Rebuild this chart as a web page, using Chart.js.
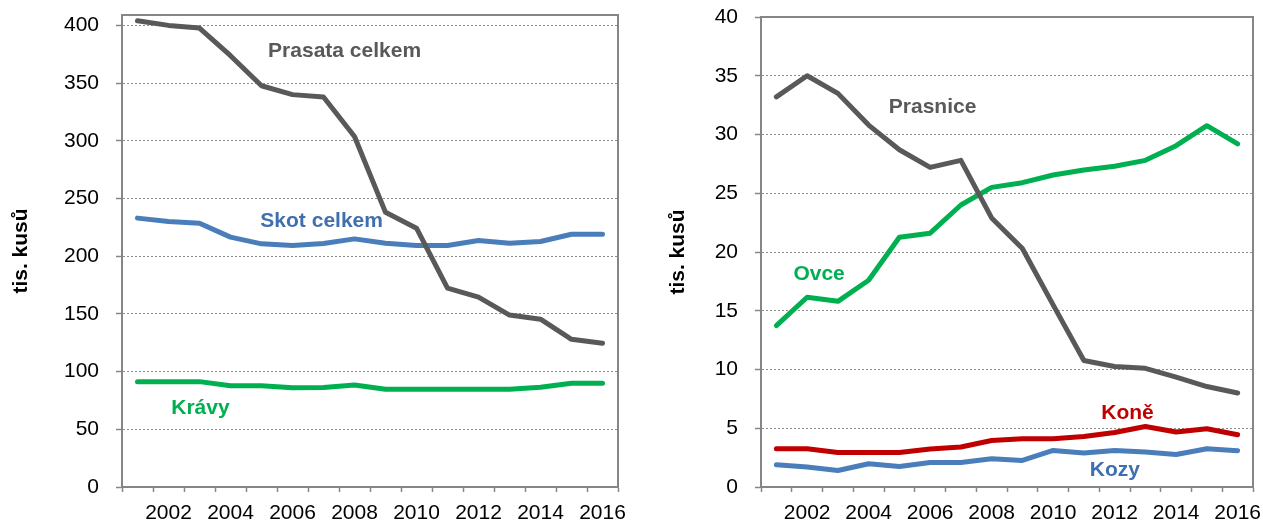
<!DOCTYPE html>
<html>
<head>
<meta charset="utf-8">
<script src="https://cdn.jsdelivr.net/npm/chart.js@4"></script>
<style>
  html, body { margin: 0; padding: 0; background: #fff; }
  #wrap { position: relative; width: 1263px; height: 522px; }
  #leftChart { position: absolute; left: 0; top: 0; }
  #rightChart { position: absolute; left: 631px; top: 0; }
</style>
</head>
<body>
<div id="wrap">
  <canvas id="leftChart" width="631" height="522"></canvas>
  <canvas id="rightChart" width="632" height="522"></canvas>
</div>
<script>
const years = ['2001','2002','2003','2004','2005','2006','2007','2008','2009','2010','2011','2012','2013','2014','2015','2016'];

// levy graf (tis. kusu)
const prasata = [404, 400, 397.7, 373.7, 347.7, 340, 338, 303.7, 238, 224.3, 172.3, 164.5, 149, 145.4, 128, 124.6];
const skot = [233, 230, 228.6, 216.5, 210.7, 209.2, 211, 215, 211.3, 209.2, 209.2, 213.6, 211.3, 212.7, 219, 219];
const kravy = [91.3, 91.3, 91.3, 87.8, 87.8, 86.1, 86.3, 88.4, 84.7, 84.7, 84.7, 84.7, 84.7, 86.4, 89.9, 89.9];

// pravy graf (tis. kusu)
const prasnice = [33.2, 35.0, 33.5, 30.8, 28.7, 27.2, 27.8, 22.9, 20.3, 15.5, 10.77, 10.26, 10.1, 9.35, 8.55, 8.0];
const ovce = [13.74, 16.15, 15.8, 17.6, 21.25, 21.6, 24.0, 25.5, 25.9, 26.55, 26.98, 27.3, 27.8, 29.05, 30.75, 29.2];
const kone = [3.26, 3.26, 2.94, 2.94, 2.94, 3.23, 3.4, 3.96, 4.1, 4.1, 4.3, 4.64, 5.15, 4.68, 4.96, 4.45];
const kozy = [1.9, 1.7, 1.41, 1.98, 1.75, 2.09, 2.09, 2.4, 2.26, 3.11, 2.89, 3.11, 2.98, 2.77, 3.26, 3.09];

const GRAY = '#595959';
const BLUE = '#4a7ebb';
const GREEN = '#00b050';
const RED = '#c00000';
const AXIS = '#868686';
const FONT = "'Liberation Sans', Arial, sans-serif";

// popisky serii: [text, index roku, hodnota, barva]
const leftLabels = [
  ['Prasata celkem', 6.68, 377.2, GRAY],
  ['Skot celkem', 5.94, 230, '#3f6fae'],
  ['Krávy', 2.03, 68.5, GREEN]
];
const rightLabels = [
  ['Prasnice', 5.08, 32.3, GRAY],
  ['Ovce', 1.39, 18.14, GREEN],
  ['Koně', 11.42, 6.32, RED],
  ['Kozy', 11.01, 1.47, '#3f6fae']
];

function frameAndLabels(labels) {
  return {
    id: 'frameAndLabels',
    afterDatasetsDraw(chart) {
      const ctx = chart.ctx;
      const a = chart.chartArea;
      ctx.save();
      ctx.strokeStyle = AXIS;
      ctx.lineWidth = 2;
      ctx.strokeRect(a.left, a.top, a.right - a.left, a.bottom - a.top);
      ctx.font = 'bold 21px ' + FONT;
      ctx.textAlign = 'center';
      ctx.textBaseline = 'middle';
      const xs = chart.scales.x;
      const ys = chart.scales.y;
      labels.forEach(l => {
        const i = Math.floor(l[1]);
        const frac = l[1] - i;
        const x0 = xs.getPixelForValue(i);
        const x1 = xs.getPixelForValue(i + 1);
        ctx.fillStyle = l[3];
        ctx.fillText(l[0], x0 + (x1 - x0) * frac, ys.getPixelForValue(l[2]));
      });
      ctx.restore();
    }
  };
}

function line(data, color) {
  return {
    data: data,
    borderColor: color,
    backgroundColor: color,
    borderWidth: 5,
    pointRadius: 0,
    tension: 0,
    borderCapStyle: 'round',
    borderJoinStyle: 'round'
  };
}

function buildChart(id, datasets, yMax, step, axisWidth, titlePad, padding, labels) {
  const ctx = document.getElementById(id).getContext('2d');
  return new Chart(ctx, {
    type: 'line',
    data: { labels: years, datasets: datasets },
    options: {
      responsive: false,
      animation: false,
      layout: { padding: padding },
      plugins: { legend: { display: false }, tooltip: { enabled: false } },
      scales: {
        x: {
          offset: true,
          grid: { offset: true, drawOnChartArea: false, tickLength: 5, tickColor: AXIS, tickWidth: 1.5 },
          border: { color: AXIS, width: 2 },
          ticks: {
            autoSkip: false,
            maxRotation: 0,
            padding: 9,
            color: '#000',
            font: { family: FONT, size: 21 },
            callback: function (v, i) { return i % 2 === 1 ? years[i] : ''; }
          },
          afterFit: s => { s.height = 35; s.paddingLeft = 0; s.paddingRight = 0; }
        },
        y: {
          min: 0,
          max: yMax,
          grid: { color: '#8c8c8c', lineWidth: 1, tickLength: 6, tickColor: AXIS, tickWidth: 1.5 },
          border: { color: AXIS, width: 2, dash: [2, 2] },
          ticks: {
            stepSize: step,
            includeBounds: false,
            padding: 17,
            color: '#000',
            font: { family: FONT, size: 21 }
          },
          title: {
            display: true,
            text: 'tis. kusů',
            color: '#000',
            font: { family: FONT, size: 21, weight: 'bold' },
            padding: { top: titlePad, bottom: 0 }
          },
          afterFit: s => { s.width = axisWidth; s.paddingTop = 0; s.paddingBottom = 0; }
        }
      }
    },
    plugins: [frameAndLabels(labels)]
  });
}

buildChart('leftChart',
  [line(prasata, GRAY), line(skot, BLUE), line(kravy, GREEN)],
  409, 50, 122, 8.4, { top: 15, right: 13, left: 0, bottom: 0 }, leftLabels);

buildChart('rightChart',
  [line(prasnice, GRAY), line(ovce, GREEN), line(kone, RED), line(kozy, BLUE)],
  40, 5, 130, 34.4, { top: 17, right: 10, left: 0, bottom: 0 }, rightLabels);
</script>
</body>
</html>
